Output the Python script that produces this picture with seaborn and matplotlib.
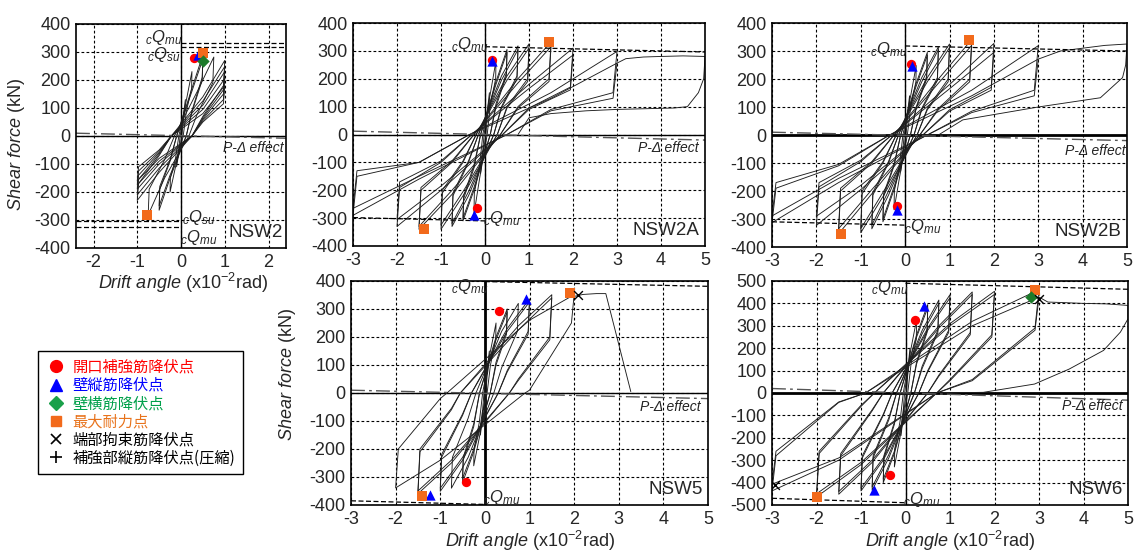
import pandas as pd
import matplotlib
matplotlib.use('Agg')
import matplotlib.pyplot as plt
import seaborn as sns
from matplotlib.lines import Line2D

# hysteresis loops, one row per cycle:
# dp, Pp, Kp, Up, zp, Mp, dn, Pn, Kn, Un, zn, Mn
#  d*: peak drift, P*: peak force, K*: force after steep unloading,
#  U*: force at half drift while unloading, z*: drift at zero force,
#  M*: force at half drift while reloading
NSW2_loops = [
    [0.1, 130, 95, 50, 0.02, 70, -0.1, -110, -80, -45, -0.02, -60],
    [0.25, 230, 170, 90, 0.05, 130, -0.25, -200, -150, -80, -0.05, -110],
    [0.5, 290, 210, 90, 0.12, 170, -0.5, -265, -190, -90, -0.1, -150],
    [0.5, 275, 200, 85, 0.12, 160, -0.5, -250, -180, -85, -0.1, -140],
    [0.75, 282, 190, 80, 0.18, 160, -0.75, -282, -190, -85, -0.15, -150],
    [1.0, 270, 180, 70, 0.25, 140, -1.0, -230, -170, -70, -0.22, -130],
    [1.0, 248, 165, 65, 0.25, 125, -1.0, -210, -155, -65, -0.22, -115],
    [1.0, 230, 150, 60, 0.25, 110, -1.0, -190, -140, -60, -0.22, -100],
    [1.0, 205, 130, 55, 0.25, 95, -1.0, -175, -125, -55, -0.22, -90],
    [1.0, 180, 115, 50, 0.25, 80, -1.0, -160, -110, -50, -0.22, -80],
]
NSW2A_loops = [
    [0.1, 150, 110, 60, 0.02, 80, -0.1, -140, -100, -55, -0.02, -75],
    [0.25, 265, 200, 110, 0.05, 150, -0.25, -285, -210, -115, -0.05, -160],
    [0.5, 305, 220, 110, 0.12, 190, -0.5, -310, -230, -120, -0.1, -200],
    [0.5, 295, 210, 100, 0.12, 180, -0.5, -300, -220, -110, -0.1, -190],
    [0.75, 318, 210, 100, 0.2, 210, -0.75, -330, -220, -100, -0.15, -220],
    [0.75, 305, 200, 95, 0.2, 195, -0.75, -320, -210, -95, -0.15, -205],
    [1.0, 325, 200, 100, 0.28, 210, -1.0, -340, -210, -100, -0.2, -220],
    [1.0, 310, 190, 95, 0.28, 195, -1.0, -325, -200, -95, -0.2, -205],
    [1.5, 332, 200, 100, 0.35, 200, -1.5, -340, -200, -100, -0.25, -215],
    [1.5, 315, 190, 95, 0.35, 185, -1.5, -330, -190, -95, -0.25, -200],
    [2.0, 310, 170, 95, 0.4, 180, -2.0, -330, -190, -100, -0.3, -200],
    [2.0, 285, 160, 90, 0.4, 165, -2.0, -305, -170, -95, -0.3, -185],
    [3.0, 298, 150, 90, 0.5, 150, -3.0, -290, -150, -100, -0.35, -160],
    [3.0, 256, 130, 85, 0.5, 130, -3.0, -265, -130, -100, -0.35, -150],
]
NSW2B_loops = [
    [0.1, 140, 100, 55, 0.02, 75, -0.1, -130, -95, -50, -0.02, -70],
    [0.25, 248, 190, 100, 0.05, 140, -0.25, -267, -200, -105, -0.05, -150],
    [0.5, 295, 210, 100, 0.12, 185, -0.5, -310, -220, -110, -0.1, -195],
    [0.5, 285, 200, 95, 0.12, 175, -0.5, -300, -210, -105, -0.1, -185],
    [0.75, 315, 205, 95, 0.2, 205, -0.75, -335, -215, -100, -0.15, -215],
    [0.75, 305, 195, 90, 0.2, 190, -0.75, -322, -205, -95, -0.15, -200],
    [1.0, 325, 200, 95, 0.27, 205, -1.0, -349, -210, -100, -0.2, -220],
    [1.0, 312, 190, 90, 0.27, 190, -1.0, -335, -200, -95, -0.2, -205],
    [1.5, 341, 200, 95, 0.33, 200, -1.5, -353, -200, -100, -0.25, -210],
    [1.5, 320, 190, 90, 0.33, 185, -1.5, -335, -190, -95, -0.25, -195],
    [2.0, 327, 170, 90, 0.4, 180, -2.0, -323, -185, -95, -0.3, -195],
    [2.0, 295, 160, 85, 0.4, 165, -2.0, -290, -170, -90, -0.3, -180],
    [3.0, 319, 160, 85, 0.5, 160, -3.0, -313, -190, -110, -0.35, -170],
    [3.0, 271, 140, 80, 0.5, 140, -3.0, -289, -170, -105, -0.35, -155],
]
NSW5_loops = [
    [0.1, 150, 110, 60, 0.02, 80, -0.1, -150, -110, -60, -0.02, -80],
    [0.25, 250, 190, 100, 0.05, 150, -0.25, -260, -200, -105, -0.05, -160],
    [0.5, 300, 220, 110, 0.12, 200, -0.5, -320, -240, -120, -0.12, -210],
    [0.5, 290, 210, 100, 0.12, 190, -0.5, -305, -230, -110, -0.12, -200],
    [0.75, 320, 220, 90, 0.2, 220, -0.75, -340, -230, -90, -0.2, -230],
    [1.0, 336, 220, 80, 0.3, 230, -1.0, -351, -230, -80, -0.3, -240],
    [1.0, 325, 210, 75, 0.3, 220, -1.0, -340, -220, -75, -0.3, -230],
    [1.5, 351, 200, 50, 0.55, 240, -1.5, -360, -210, -60, -0.55, -250],
    [1.5, 340, 190, 45, 0.55, 225, -1.5, -350, -200, -55, -0.55, -240],
    [2.0, 351, 250, 10, 0.9, 260, -2.0, -339, -200, -20, -0.85, -240],
]
NSW6_loops = [
    [0.1, 200, 150, 80, 0.02, 100, -0.1, -190, -140, -75, -0.02, -100],
    [0.25, 328, 240, 130, 0.05, 200, -0.25, -330, -250, -130, -0.05, -200],
    [0.5, 395, 280, 140, 0.12, 260, -0.5, -400, -290, -140, -0.12, -270],
    [0.5, 380, 270, 130, 0.12, 250, -0.5, -385, -280, -130, -0.12, -260],
    [0.75, 415, 280, 120, 0.2, 280, -0.75, -434, -290, -120, -0.2, -290],
    [0.75, 400, 270, 110, 0.2, 265, -0.75, -420, -280, -110, -0.2, -275],
    [1.0, 439, 280, 100, 0.3, 290, -1.0, -437, -290, -100, -0.3, -300],
    [1.0, 425, 270, 95, 0.3, 280, -1.0, -425, -280, -95, -0.3, -290],
    [1.5, 451, 270, 80, 0.5, 300, -1.5, -452, -280, -80, -0.5, -310],
    [1.5, 440, 260, 75, 0.5, 290, -1.5, -440, -270, -75, -0.5, -300],
    [2.0, 454, 260, 60, 0.7, 310, -2.0, -464, -270, -60, -0.7, -320],
    [2.0, 440, 250, 55, 0.7, 300, -2.0, -450, -260, -55, -0.7, -310],
    [3.0, 461, 290, 60, 0.7, 320, -3.0, -437, -280, -42, -0.9, -300],
    [3.0, 428, 280, 55, 0.7, 300, -3.0, -407, -260, -40, -0.9, -290],
]

# last excursions (drift, force)
NSW2_tail = []
NSW2A_tail = [(3.0, 256), (3.2, 272), (3.6, 278), (4.0, 280), (4.5, 282), (5.0, 280),
              (4.97, 200), (4.85, 150), (4.6, 100), (4.3, 95), (3.0, 90), (2.3, 85),
              (1.5, 75), (1.0, 60), (0.75, 0)]
NSW2B_tail = [(3.0, 271), (3.5, 300), (4.0, 310), (4.5, 320), (5.0, 325), (4.97, 250),
              (4.9, 205), (4.4, 133), (3.0, 100), (1.3, 54), (0.75, 0)]
NSW5_tail = [(2.0, 345), (2.2, 352), (2.5, 355), (2.71, 355), (3.27, 5)]
NSW6_tail = [(3.0, 428), (3.2, 406), (3.5, 404), (4.0, 400), (4.5, 398), (5.0, 391),
             (5.0, 331), (4.83, 272), (4.45, 190), (3.68, 107), (2.9, 40), (1.75, 3),
             (0.8, 0)]

# event points (drift, force)
NSW2_opening = [(0.3, 278)]
NSW2_wall_vert = [(0.38, 290)]
NSW2_wall_hor = [(0.5, 268)]
NSW2_max = [(0.5, 295), (-0.77, -282)]
NSW2A_opening = [(0.15, 268), (-0.19, -264)]
NSW2A_wall_vert = [(0.15, 262), (-0.25, -287)]
NSW2A_max = [(1.45, 332), (-1.38, -338)]
NSW2B_opening = [(0.14, 252), (-0.18, -255)]
NSW2B_wall_vert = [(0.15, 245), (-0.19, -267)]
NSW2B_max = [(1.45, 341), (-1.45, -353)]
NSW5_opening = [(0.31, 292), (-0.43, -318)]
NSW5_wall_vert = [(0.92, 336), (-1.24, -363)]
NSW5_max = [(1.90, 357), (-1.40, -367)]
NSW5_confine = [(2.08, 351)]
NSW6_opening = [(0.22, 328), (-0.35, -367)]
NSW6_wall_vert = [(0.42, 388), (-0.71, -434)]
NSW6_wall_hor = [(2.82, 427)]
NSW6_max = [(2.91, 461), (-1.99, -464)]
NSW6_confine = [(3.0, 418), (-2.94, -412)]

# calculated strengths: positive lines (at 0, at right edge), negative (at left edge, at 0)
NSW2_Q_pos = [[331, 331], [317, 317]]
NSW2_Q_neg = [[-302, -302], [-325, -325]]
NSW2A_Q_pos = [[315, 296]]
NSW2A_Q_neg = [[-298, -310]]
NSW2B_Q_pos = [[318, 300]]
NSW2B_Q_neg = [[-310, -322]]
NSW5_Q_pos = [[398, 381]]
NSW5_Q_neg = [[-385, -398]]
NSW6_Q_pos = [[490, 463]]
NSW6_Q_neg = [[-470, -490]]

# P-Delta line (left edge, right edge)
NSW2_pdelta = [10, -8]
NSW2A_pdelta = [12, -20]
NSW2B_pdelta = [10, -20]
NSW5_pdelta = [10, -20]
NSW6_pdelta = [20, -32]

legend_labels = ['開口補強筋降伏点', '壁縦筋降伏点', '壁横筋降伏点', '最大耐力点',
                 '端部拘束筋降伏点', '補強部縦筋降伏点(圧縮)']

RED, BLUE, GREEN, ORANGE = '#ff0000', '#0000ff', '#1c7a2a', '#f26a1b'

sns.set_theme(style='white')
plt.rcParams['font.family'] = ['Liberation Sans', 'DejaVu Sans']
plt.rcParams['axes.unicode_minus'] = False
plt.rcParams['mathtext.fontset'] = 'custom'
plt.rcParams['mathtext.rm'] = 'Liberation Sans'
plt.rcParams['mathtext.it'] = 'Liberation Sans:italic'
plt.rcParams['mathtext.bf'] = 'Liberation Sans:bold'


def loop_xy(row):
    dp, Pp, Kp, Up, zp, Mp, dn, Pn, Kn, Un, zn, Mn = row
    du = 0.03 * dp
    xs = [zn, dp / 2, dp, dp - du, dp / 2, zp, dn / 2, dn, dn + du, dn / 2, zn]
    ys = [0, Mp, Pp, Kp, Up, 0, Mn, Pn, Kn, Un, 0]
    return xs, ys


def draw_panel(ax, loops, tail, xlim, ylim, xticks, q_pos, q_neg, pdelta, name,
               qlabels, pd_pos, thick_h, thick_v):
    rows = []
    for i, r in enumerate(loops):
        xs, ys = loop_xy(r)
        rows += [(i, x, y) for x, y in zip(xs, ys)]
    for x, y in tail:
        rows.append((len(loops), x, y))
    df = pd.DataFrame(rows, columns=['path', 'x', 'y'])
    ax.set_xlim(*xlim)
    ax.set_ylim(*ylim)
    ax.set_xticks(xticks)
    ax.set_yticks(range(ylim[0], ylim[1] + 1, 100))
    ax.grid(True, color='black', linestyle=(0, (2.5, 2)), linewidth=0.8)
    ax.axhline(0, color='black', lw=2.0 if thick_h else 1.0, zorder=2)
    ax.axvline(0, color='black', lw=2.0 if thick_v else 1.0, zorder=2)

    sns.lineplot(data=df, x='x', y='y', units='path', estimator=None, sort=False,
                 color='#1e1e1e', lw=0.65, ax=ax, legend=False)

    for y0, y1 in q_pos:
        ax.plot([0, xlim[1]], [y0, y1], color='black', lw=0.9, ls=(0, (4, 2)))
    for y0, y1 in q_neg:
        ax.plot([xlim[0], 0], [y0, y1], color='black', lw=0.9, ls=(0, (4, 2)))
    ax.plot(list(xlim), pdelta, color='#555555', lw=1.0, ls=(0, (10, 3, 2, 3)))

    for txt, x, y in qlabels:
        ax.text(x, y, txt, ha='center', va='center', fontsize=12)
    ax.text(pd_pos[0], pd_pos[1], 'P-Δ effect', ha='right', va='center',
            fontsize=10, fontstyle='italic', color='#222222')
    ax.text(0.985, 0.03, name, transform=ax.transAxes, ha='right', va='bottom',
            fontsize=13.5)

    ax.set_xlabel('')
    ax.set_ylabel('')
    ax.tick_params(labelsize=13, length=0, pad=4)
    for s in ax.spines.values():
        s.set_color('black')
        s.set_linewidth(1.2)


def draw_points(ax, pts, marker, color, size, lw=0):
    if not pts:
        return
    d = pd.DataFrame(pts, columns=['x', 'y'])
    sns.scatterplot(data=d, x='x', y='y', marker=marker, color=color, s=size,
                    linewidth=lw, edgecolor=color if lw == 0 else None, ax=ax,
                    zorder=5, legend=False)
    ax.set_xlabel('')
    ax.set_ylabel('')


QMU = r'${}_{c}Q_{mu}$'
QSU = r'${}_{c}Q_{su}$'

W, H = 1135, 552
fig = plt.figure(figsize=(W / 100, H / 100), dpi=100)


def box(l, t, r, b):
    return [l / W, 1 - b / H, (r - l) / W, (b - t) / H]


ax1 = fig.add_axes(box(76, 24, 286, 248))
ax2 = fig.add_axes(box(353, 23, 705, 246))
ax3 = fig.add_axes(box(772, 23, 1127, 247))
ax4 = fig.add_axes(box(351, 281, 708, 505))
ax5 = fig.add_axes(box(772, 281, 1128, 505))

wide = list(range(-3, 6))
draw_panel(ax1, NSW2_loops, NSW2_tail, (-2.4, 2.4), (-400, 400), [-2, -1, 0, 1, 2],
           NSW2_Q_pos, NSW2_Q_neg, NSW2_pdelta, 'NSW2',
           [(QMU, -0.40, 352), (QSU, -0.40, 290), (QSU, 0.40, -290), (QMU, 0.40, -362)],
           (2.35, -44), False, False)
draw_panel(ax2, NSW2A_loops, NSW2A_tail, (-3, 5), (-400, 400), wide, NSW2A_Q_pos,
           NSW2A_Q_neg, NSW2A_pdelta, 'NSW2A', [(QMU, -0.36, 322), (QMU, 0.38, -300)],
           (4.85, -50), False, False)
draw_panel(ax3, NSW2B_loops, NSW2B_tail, (-3, 5), (-400, 400), wide, NSW2B_Q_pos,
           NSW2B_Q_neg, NSW2B_pdelta, 'NSW2B', [(QMU, -0.37, 307), (QMU, 0.40, -325)],
           (4.98, -58), True, False)
draw_panel(ax4, NSW5_loops, NSW5_tail, (-3, 5), (-400, 400), wide, NSW5_Q_pos,
           NSW5_Q_neg, NSW5_pdelta, 'NSW5', [(QMU, -0.35, 380), (QMU, 0.37, -372)],
           (4.83, -50), False, True)
draw_panel(ax5, NSW6_loops, NSW6_tail, (-3, 5), (-500, 500), wide, NSW6_Q_pos,
           NSW6_Q_neg, NSW6_pdelta, 'NSW6', [(QMU, -0.35, 473), (QMU, 0.37, -475)],
           (4.87, -60), True, False)

panels = [
    (ax1, NSW2_opening, NSW2_wall_vert, NSW2_max, NSW2_wall_hor, []),
    (ax2, NSW2A_opening, NSW2A_wall_vert, NSW2A_max, [], []),
    (ax3, NSW2B_opening, NSW2B_wall_vert, NSW2B_max, [], []),
    (ax4, NSW5_opening, NSW5_wall_vert, NSW5_max, [], NSW5_confine),
    (ax5, NSW6_opening, NSW6_wall_vert, NSW6_max, NSW6_wall_hor, NSW6_confine),
]
for ax, op, wv, mx, wh, cf in panels:
    draw_points(ax, op, 'o', RED, 45)
    draw_points(ax, wv, '^', BLUE, 55)
    draw_points(ax, mx, 's', ORANGE, 55)
    draw_points(ax, wh, 'D', GREEN, 40)
    draw_points(ax, cf, 'x', 'black', 40, lw=1.0)

ylab = r'$\mathit{Shear\ force}$ (kN)'
xlab = r'$\mathit{Drift\ angle}$ (x10$^{\mathregular{-2}}$rad)'
fig.text(17 / W, 1 - 145 / H, ylab, rotation=90, ha='center', va='center', fontsize=13)
fig.text(288 / W, 1 - 375 / H, ylab, rotation=90, ha='center', va='center', fontsize=13)
fig.text(183 / W, 1 - 283 / H, xlab, ha='center', va='center', fontsize=13)
fig.text(530 / W, 1 - 541 / H, xlab, ha='center', va='center', fontsize=13)
fig.text(950 / W, 1 - 541 / H, xlab, ha='center', va='center', fontsize=13)

handles = [
    Line2D([], [], ls='', marker='o', color=RED, markersize=8.5),
    Line2D([], [], ls='', marker='^', color=BLUE, markersize=8.5),
    Line2D([], [], ls='', marker='D', color='#1aa04a', markersize=7),
    Line2D([], [], ls='', marker='s', color=ORANGE, markersize=7),
    Line2D([], [], ls='', marker='x', color='black', markersize=6.5, markeredgewidth=1.2),
    Line2D([], [], ls='', marker='+', color='black', markersize=9, markeredgewidth=1.2),
]
leg = fig.legend(handles, legend_labels, loc='upper left',
                 bbox_to_anchor=(38 / W, 1 - 351 / H), bbox_transform=fig.transFigure,
                 labelcolor=[RED, BLUE, '#00a04a', '#e8731c', 'black', 'black'],
                 prop={'family': ['Noto Sans CJK JP', 'DejaVu Sans'], 'size': 11},
                 frameon=True, fancybox=False, edgecolor='black', framealpha=1,
                 borderaxespad=0, borderpad=0.5, labelspacing=0.08,
                 handlelength=1.4, handletextpad=0.35)
leg.get_frame().set_linewidth(1.0)

fig.savefig('out.png', dpi=100)
